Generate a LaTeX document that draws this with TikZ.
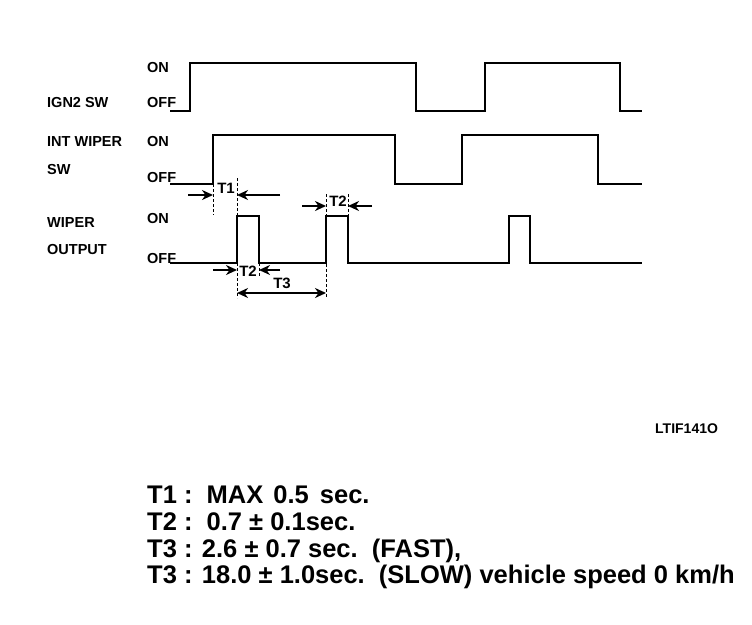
\documentclass[tikz,border=0pt]{standalone}
\usepackage{fontspec}
\setmainfont{Liberation Sans}
\usetikzlibrary{arrows.meta}
\begin{document}
\begin{tikzpicture}[x=1pt,y=-1pt,
  wave/.style={line width=2.6pt,line join=miter},
  dimline/.style={line width=1.8pt,-{Stealth[length=11pt,width=10pt,inset=3.5pt]}},
  dimboth/.style={line width=1.8pt,{Stealth[length=11pt,width=10pt,inset=3.5pt]}-{Stealth[length=11pt,width=10pt,inset=3.5pt]}},
  guide/.style={line width=1pt,dash pattern=on 3pt off 2pt},
  lbl/.style={font=\fontsize{14.5}{14.5}\selectfont\bfseries,anchor=base west,inner sep=0pt},
  tlbl/.style={font=\fontsize{15}{15}\selectfont\bfseries,inner sep=0pt},
  note/.style={font=\fontsize{25.5}{25.5}\selectfont\bfseries,anchor=base west,inner sep=0pt}]
\useasboundingbox (0,0) rectangle (752,624);
% labels
\node[lbl] (on1) at (147,72) {ON};
\node[lbl] (off1) at (147,107) {OFF};
\node[lbl] (ign) at (47,107) {IGN2 SW};
\node[lbl] (int) at (47,146) {INT WIPER};
\node[lbl] (on2) at (147,146) {ON};
\node[lbl] (sw) at (47,174) {SW};
\node[lbl] (off2) at (147,182) {OFF};
\node[lbl] (wip) at (47,227) {WIPER};
\node[lbl] (on3) at (147,223) {ON};
\node[lbl] (out) at (47,254) {OUTPUT};
\node[lbl] (off3) at (147,263) {OFF};
% waveforms
\draw[wave] (170,111) -- (190,111) -- (190,63) -- (416,63) -- (416,111) -- (485,111) -- (485,63) -- (620,63) -- (620,111) -- (642,111);
\draw[wave] (170,184) -- (213,184) -- (213,135) -- (395,135) -- (395,184) -- (462,184) -- (462,135) -- (598,135) -- (598,184) -- (642,184);
\draw[wave] (170,263) -- (237,263) -- (237,216) -- (259,216) -- (259,263) -- (326,263) -- (326,216) -- (348,216) -- (348,263) -- (509,263) -- (509,216) -- (530,216) -- (530,263) -- (642,263);
% guides
\draw[guide] (213,184) -- (213,215);
\draw[guide] (237,178) -- (237,298);
\draw[guide] (326,194) -- (326,298);
\draw[guide] (348,194) -- (348,216);
\draw[guide] (259,263) -- (259,276);
% coordinates for dimensions
\coordinate (t1a) at (188,195); \coordinate (t1b) at (213,195);
\coordinate (t1c) at (280,195); \coordinate (t1d) at (237,195);
\coordinate (t2a) at (302,206); \coordinate (t2b) at (326,206);
\coordinate (t2c) at (372,206); \coordinate (t2d) at (348,206);
\coordinate (t2e) at (213,270); \coordinate (t2f) at (237,270);
\coordinate (t2g) at (280,270); \coordinate (t2h) at (259,270);
\coordinate (t3a) at (237,293); \coordinate (t3b) at (326,293);
\draw[dimline] (t1a) -- (t1b);
\draw[dimline] (t1c) -- (t1d);
\draw[dimline] (t2a) -- (t2b);
\draw[dimline] (t2c) -- (t2d);
\draw[dimline] (t2e) -- (t2f);
\draw[dimline] (t2g) -- (t2h);
\draw[dimboth] (t3a) -- (t3b);
\node[tlbl] (T1) at (226,188) {T1};
\node[tlbl] (T2u) at (338,201) {T2};
\node[tlbl] (T2l) at (248,271) {T2};
\node[tlbl] (T3) at (282,283) {T3};
% reference code
\node[font=\fontsize{14}{14}\selectfont\bfseries,anchor=base west,inner sep=0pt] (code) at (655,433) {LTIF141O};
% notes
\node[note] (n1) at (147,503) {T1 :\ \ MAX\hspace{3pt} 0.5\hspace{4pt} sec.};
\node[note] (n2) at (147,530) {T2 :\ \ 0.7 ± 0.1sec.};
\node[note] (n3) at (147,557) {T3 : 2.6 ± 0.7 sec.\ \ (FAST),};
\node[note] (n4) at (147,583) {T3 : 18.0 ± 1.0sec.\ \ (SLOW) vehicle speed 0 km/h};
\end{tikzpicture}
\end{document}
